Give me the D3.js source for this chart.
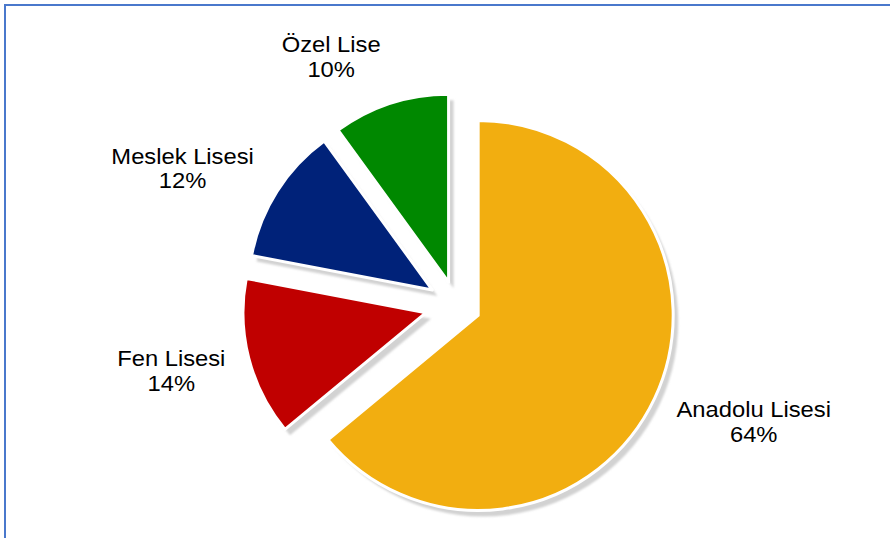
<!DOCTYPE html>
<html lang="tr">
<head>
<meta charset="UTF-8">
<script src="https://d3js.org/d3.v7.min.js"></script>
<style>
  html, body { margin: 0; padding: 0; background: #fff; }
  svg { display: block; }
</style>
</head>
<body>
<div id="container"></div>
<script>
// data
const schoolTypes = ["Anadolu Lisesi", "Fen Lisesi", "Meslek Lisesi", "Özel Lise"];
const shares = [64, 14, 12, 10];
const sliceColors = ["#f2ae10", "#c00000", "#002279", "#008800"];

// layout (per slice, same order as data)
const explode = [24.5, 31, 28, 24];
const radii = [195, 183, 184, 188];
const labelNudge = [[6, -1], [-1, -3], [-2, 10], [-21, -3]];

const w = 890, h = 538;
const cx = 456, cy = 305;
const labelR = 237;
const stretch = 1.08; // labels look slightly wide in the original

const svg = d3.select("#container")
  .append("svg")
  .attr("width", w)
  .attr("height", h);

// shadow blur
const defs = svg.append("defs");
defs.append("filter")
  .attr("id", "soft")
  .attr("x", "-10%").attr("y", "-10%")
  .attr("width", "120%").attr("height", "120%")
  .append("feGaussianBlur")
  .attr("stdDeviation", 1);

// frame (only top and left edges visible)
svg.append("rect")
  .attr("x", 5)
  .attr("y", 5)
  .attr("width", w + 20)
  .attr("height", h + 20)
  .attr("fill", "none")
  .attr("stroke", "#4a78cc")
  .attr("stroke-width", 2);

const pie = d3.pie().sort(null).value(d => d)(shares);

const arc = d3.arc()
  .innerRadius(0)
  .outerRadius((d, i) => radii[i]);

function mid(d) { return (d.startAngle + d.endAngle) / 2; }
function offset(d, i) {
  const a = mid(d);
  return [explode[i] * Math.sin(a), -explode[i] * Math.cos(a)];
}

const g = svg.append("g").attr("transform", "translate(" + cx + "," + cy + ")");

// shadows first
g.selectAll("path.shadow")
  .data(pie)
  .enter()
  .append("path")
  .attr("class", "shadow")
  .attr("d", (d, i) => arc(d, i))
  .attr("transform", (d, i) => {
    const o = offset(d, i);
    return "translate(" + (o[0] + 5) + "," + (o[1] + 6) + ")";
  })
  .attr("fill", "#d2d2d2")
  .attr("filter", "url(#soft)");

// slices
g.selectAll("path.slice")
  .data(pie)
  .enter()
  .append("path")
  .attr("class", "slice")
  .attr("d", (d, i) => arc(d, i))
  .attr("transform", (d, i) => "translate(" + offset(d, i) + ")")
  .attr("fill", (d, i) => sliceColors[i])
  .attr("stroke", "#fff")
  .attr("stroke-width", 3)
  .attr("stroke-linejoin", "round");

// labels
const clamp = v => Math.max(-1, Math.min(1, v));
const labels = svg.append("g")
  .style("font-family", "'Liberation Sans', Arial, sans-serif")
  .style("font-size", "22px")
  .attr("fill", "#000");

pie.forEach((d, i) => {
  const t = labels.append("text").attr("text-anchor", "middle");
  const l1 = t.append("tspan").attr("x", 0).attr("y", -4.5).text(schoolTypes[i]);
  const l2 = t.append("tspan").attr("x", 0).attr("y", 20).text(shares[i] + "%");
  const bw = stretch * Math.max(l1.node().getComputedTextLength(), l2.node().getComputedTextLength());
  const bh = 40;
  const a = mid(d);
  const ux = Math.sin(a), uy = -Math.cos(a);
  const x = cx + labelR * ux + bw / 2 * clamp(2 * ux) + labelNudge[i][0];
  const y = cy + labelR * uy + bh / 2 * clamp(2 * uy) + labelNudge[i][1];
  t.attr("transform", "translate(" + x + "," + y + ") scale(" + stretch + ",1)");
});
</script>
</body>
</html>
